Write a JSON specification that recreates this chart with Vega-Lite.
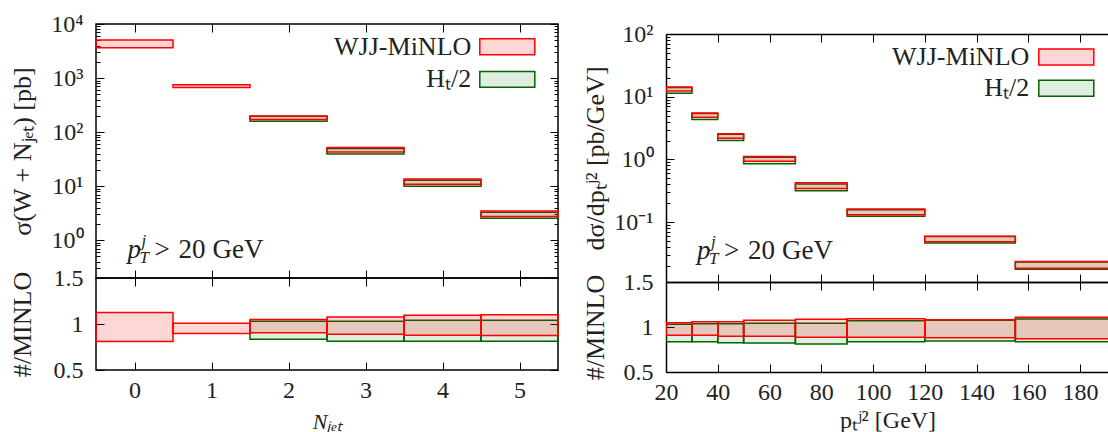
{
  "$schema": "https://vega.github.io/schema/vega-lite/v6.json",
  "padding": {"left": 8, "top": 11, "right": 0, "bottom": 0},
  "background": "white",
  "datasets": {
    "left": [
      {"x1": 1.5, "x2": 2.5, "series": "HT/2", "lo": 158.7, "hi": 195.9, "rlo": 0.835, "rhi": 1.031},
      {"x1": 2.5, "x2": 3.5, "series": "HT/2", "lo": 39.3, "hi": 49.8, "rlo": 0.813, "rhi": 1.031},
      {"x1": 3.5, "x2": 4.5, "series": "HT/2", "lo": 10.0, "hi": 12.8, "rlo": 0.813, "rhi": 1.042},
      {"x1": 4.5, "x2": 5.5, "series": "HT/2", "lo": 2.56, "hi": 3.28, "rlo": 0.813, "rhi": 1.042},
      {"x1": -0.5, "x2": 0.5, "series": "WJJ-MiNLO", "lo": 3640, "hi": 5060, "rlo": 0.809, "rhi": 1.125},
      {"x1": 0.5, "x2": 1.5, "series": "WJJ-MiNLO", "lo": 668, "hi": 752, "rlo": 0.896, "rhi": 1.009},
      {"x1": 1.5, "x2": 2.5, "series": "WJJ-MiNLO", "lo": 171.8, "hi": 199.3, "rlo": 0.904, "rhi": 1.049},
      {"x1": 2.5, "x2": 3.5, "series": "WJJ-MiNLO", "lo": 42.9, "hi": 51.9, "rlo": 0.889, "rhi": 1.075},
      {"x1": 3.5, "x2": 4.5, "series": "WJJ-MiNLO", "lo": 10.8, "hi": 13.5, "rlo": 0.878, "rhi": 1.096},
      {"x1": 4.5, "x2": 5.5, "series": "WJJ-MiNLO", "lo": 2.76, "hi": 3.47, "rlo": 0.875, "rhi": 1.1}
    ],
    "right": [
      {"x1": 20, "x2": 30, "series": "HT/2", "lo": 11.38, "hi": 14.01, "rlo": 0.837, "rhi": 1.03},
      {"x1": 30, "x2": 40, "series": "HT/2", "lo": 4.35, "hi": 5.39, "rlo": 0.837, "rhi": 1.037},
      {"x1": 40, "x2": 50, "series": "HT/2", "lo": 2.0, "hi": 2.51, "rlo": 0.826, "rhi": 1.037},
      {"x1": 50, "x2": 70, "series": "HT/2", "lo": 0.855, "hi": 1.083, "rlo": 0.822, "rhi": 1.041},
      {"x1": 70, "x2": 90, "series": "HT/2", "lo": 0.316, "hi": 0.406, "rlo": 0.811, "rhi": 1.041},
      {"x1": 90, "x2": 120, "series": "HT/2", "lo": 0.124, "hi": 0.158, "rlo": 0.837, "rhi": 1.07},
      {"x1": 120, "x2": 155, "series": "HT/2", "lo": 0.0464, "hi": 0.0591, "rlo": 0.844, "rhi": 1.074},
      {"x1": 155, "x2": 200, "series": "HT/2", "lo": 0.01774, "hi": 0.02309, "rlo": 0.837, "rhi": 1.089},
      {"x1": 20, "x2": 30, "series": "WJJ-MiNLO", "lo": 12.34, "hi": 14.25, "rlo": 0.907, "rhi": 1.048},
      {"x1": 30, "x2": 40, "series": "WJJ-MiNLO", "lo": 4.72, "hi": 5.51, "rlo": 0.907, "rhi": 1.059},
      {"x1": 40, "x2": 50, "series": "WJJ-MiNLO", "lo": 2.17, "hi": 2.56, "rlo": 0.896, "rhi": 1.059},
      {"x1": 50, "x2": 70, "series": "WJJ-MiNLO", "lo": 0.932, "hi": 1.117, "rlo": 0.896, "rhi": 1.074},
      {"x1": 70, "x2": 90, "series": "WJJ-MiNLO", "lo": 0.345, "hi": 0.423, "rlo": 0.885, "rhi": 1.085},
      {"x1": 90, "x2": 120, "series": "WJJ-MiNLO", "lo": 0.131, "hi": 0.162, "rlo": 0.885, "rhi": 1.093},
      {"x1": 120, "x2": 155, "series": "WJJ-MiNLO", "lo": 0.0485, "hi": 0.0595, "rlo": 0.881, "rhi": 1.081},
      {"x1": 155, "x2": 200, "series": "WJJ-MiNLO", "lo": 0.01844, "hi": 0.02347, "rlo": 0.87, "rhi": 1.107}
    ]
  },
  "hconcat": [
    {
      "vconcat": [
        {
          "width": 462,
          "height": 254,
          "layer": [
            {
              "data": {"name": "left"},
              "transform": [{"filter": "datum.series == 'HT/2'"}],
              "mark": {"type": "rect", "strokeWidth": 1.5},
              "encoding": {
                "x": {"field": "x1", "type": "quantitative", "scale": {"domain": [-0.5, 5.5], "nice": false, "zero": false}, "axis": {"orient": "top", "values": [0, 1, 2, 3, 4, 5], "labels": false, "tickSize": -8, "title": null}},
                "x2": {"field": "x2"},
                "y": {"field": "lo", "type": "quantitative", "scale": {"type": "log", "domain": [0.2, 10000], "nice": false}, "axis": {"orient": "right", "values": [1, 10, 100, 1000, 10000], "labels": false, "tickSize": -8, "title": null}},
                "y2": {"field": "hi"},
                "fill": {"field": "series", "type": "nominal", "scale": {"domain": ["WJJ-MiNLO", "HT/2"], "range": ["rgba(255,0,0,0.16)", "rgba(0,110,0,0.12)"]}, "legend": {"title": null, "orient": "none", "legendX": 396.8, "legendY": 8.3, "labelFontSize": 26, "labelAlign": "right", "labelOffset": -50.5, "rowPadding": 4.6, "symbolType": "M-2,-0.58H2V0.58H-2Z", "symbolSize": 756.25, "labelExpr": "datum.label == 'HT/2' ? 'Hₜ/2' : datum.label"}},
                "stroke": {"field": "series", "type": "nominal", "scale": {"domain": ["WJJ-MiNLO", "HT/2"], "range": ["#ff0000", "#006400"]}, "legend": {"title": null, "orient": "none", "legendX": 396.8, "legendY": 8.3, "labelFontSize": 26, "labelAlign": "right", "labelOffset": -50.5, "rowPadding": 4.6, "symbolType": "M-2,-0.58H2V0.58H-2Z", "symbolSize": 756.25, "labelExpr": "datum.label == 'HT/2' ? 'Hₜ/2' : datum.label"}},
                "strokeDash": {"field": "series", "type": "nominal", "scale": {"domain": ["WJJ-MiNLO", "HT/2"], "range": [[1, 0], [4, 3]]}, "legend": {"title": null, "orient": "none", "legendX": 396.8, "legendY": 8.3, "labelFontSize": 26, "labelAlign": "right", "labelOffset": -50.5, "rowPadding": 4.6, "symbolType": "M-2,-0.58H2V0.58H-2Z", "symbolSize": 756.25, "labelExpr": "datum.label == 'HT/2' ? 'Hₜ/2' : datum.label"}}
              }
            },
            {
              "data": {"name": "left"},
              "transform": [{"filter": "datum.series == 'WJJ-MiNLO'"}],
              "mark": {"type": "rect", "strokeWidth": 1.5},
              "encoding": {
                "x": {"field": "x1", "type": "quantitative", "axis": {"orient": "bottom", "values": [0, 1, 2, 3, 4, 5], "labels": false, "tickSize": -8, "title": null}},
                "x2": {"field": "x2"},
                "y": {"field": "lo", "type": "quantitative", "axis": {"orient": "left", "values": [1, 10, 100, 1000, 10000], "tickSize": -8, "labelPadding": 21, "minExtent": 50, "maxExtent": 50, "titlePadding": 11, "title": "σ(W + Nⱼₑₜ) [pb]", "labelExpr": "'10' + (datum.value > 9000 ? '⁴' : datum.value > 900 ? '³' : datum.value > 90 ? '²' : datum.value > 9 ? '¹' : datum.value > 0.9 ? '⁰' : '⁻¹')"}},
                "y2": {"field": "hi"},
                "fill": {"field": "series", "type": "nominal"},
                "stroke": {"field": "series", "type": "nominal"},
                "strokeDash": {"field": "series", "type": "nominal"}
              }
            },
            {
              "data": {"values": [{"t": "p"}]},
              "mark": {"type": "text", "align": "left", "baseline": "alphabetic", "fontSize": 27, "fontStyle": "italic", "color": "#222"},
              "encoding": {
                "x": {"datum": -0.09, "type": "quantitative", "axis": null},
                "y": {"datum": 0.47, "type": "quantitative", "axis": {"orient": "left", "values": [0.3, 0.4, 0.5, 0.6, 0.7, 0.8, 0.9, 2, 3, 4, 5, 6, 7, 8, 9, 20, 30, 40, 50, 60, 70, 80, 90, 200, 300, 400, 500, 600, 700, 800, 900, 2000, 3000, 4000, 5000, 6000, 7000, 8000, 9000], "labels": false, "tickSize": -4, "title": null}},
                "text": {"field": "t"}
              }
            },
            {
              "data": {"values": [{"t": "j"}]},
              "mark": {"type": "text", "align": "left", "baseline": "alphabetic", "fontSize": 17, "fontStyle": "italic", "color": "#222", "dx": 14, "dy": -12},
              "encoding": {
                "x": {"datum": -0.09, "type": "quantitative", "axis": null},
                "y": {"datum": 0.47, "type": "quantitative", "axis": {"orient": "right", "values": [0.3, 0.4, 0.5, 0.6, 0.7, 0.8, 0.9, 2, 3, 4, 5, 6, 7, 8, 9, 20, 30, 40, 50, 60, 70, 80, 90, 200, 300, 400, 500, 600, 700, 800, 900, 2000, 3000, 4000, 5000, 6000, 7000, 8000, 9000], "labels": false, "tickSize": -4, "title": null}},
                "text": {"field": "t"}
              }
            },
            {
              "data": {"values": [{"t": "T"}]},
              "mark": {"type": "text", "align": "left", "baseline": "alphabetic", "fontSize": 17, "fontStyle": "italic", "color": "#222", "dx": 12, "dy": 5},
              "encoding": {
                "x": {"datum": -0.09, "type": "quantitative", "axis": null},
                "y": {"datum": 0.47, "type": "quantitative", "axis": null},
                "text": {"field": "t"}
              }
            },
            {
              "data": {"values": [{"t": ">"}]},
              "mark": {"type": "text", "align": "left", "baseline": "alphabetic", "fontSize": 27, "color": "#222", "dx": 27},
              "encoding": {
                "x": {"datum": -0.09, "type": "quantitative", "axis": null},
                "y": {"datum": 0.47, "type": "quantitative", "axis": null},
                "text": {"field": "t"}
              }
            },
            {
              "data": {"values": [{"t": "20"}]},
              "mark": {"type": "text", "align": "left", "baseline": "alphabetic", "fontSize": 27, "color": "#222", "dx": 51},
              "encoding": {
                "x": {"datum": -0.09, "type": "quantitative", "axis": null},
                "y": {"datum": 0.47, "type": "quantitative", "axis": null},
                "text": {"field": "t"}
              }
            },
            {
              "data": {"values": [{"t": "GeV"}]},
              "mark": {"type": "text", "align": "left", "baseline": "alphabetic", "fontSize": 27, "color": "#222", "dx": 85},
              "encoding": {
                "x": {"datum": -0.09, "type": "quantitative", "axis": null},
                "y": {"datum": 0.47, "type": "quantitative", "axis": null},
                "text": {"field": "t"}
              }
            }
          ],
          "resolve": {"axis": {"x": "independent", "y": "independent"}}
        },
        {
          "width": 462,
          "height": 92,
          "layer": [
            {
              "data": {"name": "left"},
              "transform": [{"filter": "datum.series == 'HT/2'"}],
              "mark": {"type": "rect", "strokeWidth": 1.5},
              "encoding": {
                "x": {"field": "x1", "type": "quantitative", "scale": {"domain": [-0.5, 5.5], "nice": false, "zero": false}, "axis": {"orient": "top", "values": [0, 1, 2, 3, 4, 5], "labels": false, "tickSize": -8, "title": null}},
                "x2": {"field": "x2"},
                "y": {"field": "rlo", "type": "quantitative", "scale": {"domain": [0.5, 1.5], "nice": false, "zero": false}, "axis": {"orient": "right", "values": [0.5, 1, 1.5], "labels": false, "tickSize": -8, "title": null}},
                "y2": {"field": "rhi"},
                "fill": {"field": "series", "type": "nominal", "scale": {"domain": ["WJJ-MiNLO", "HT/2"], "range": ["rgba(255,0,0,0.16)", "rgba(0,110,0,0.12)"]}, "legend": null},
                "stroke": {"field": "series", "type": "nominal", "scale": {"domain": ["WJJ-MiNLO", "HT/2"], "range": ["#ff0000", "#006400"]}, "legend": null},
                "strokeDash": {"field": "series", "type": "nominal", "scale": {"domain": ["WJJ-MiNLO", "HT/2"], "range": [[1, 0], [4, 3]]}, "legend": null}
              }
            },
            {
              "data": {"name": "left"},
              "transform": [{"filter": "datum.series == 'WJJ-MiNLO'"}],
              "mark": {"type": "rect", "strokeWidth": 1.5},
              "encoding": {
                "x": {"field": "x1", "type": "quantitative", "axis": {"orient": "bottom", "values": [0, 1, 2, 3, 4, 5], "tickSize": -8, "labelPadding": 16.5, "format": "d", "title": "Nⱼₑₜ", "titleFontStyle": "italic", "titleFontSize": 22, "titlePadding": 8.5}},
                "x2": {"field": "x2"},
                "y": {"field": "rlo", "type": "quantitative", "axis": {"orient": "left", "values": [0.5, 1, 1.5], "tickSize": -8, "labelPadding": 21, "minExtent": 50, "maxExtent": 50, "titlePadding": 11, "format": "~g", "title": "#/MINLO"}},
                "y2": {"field": "rhi"},
                "fill": {"field": "series", "type": "nominal", "legend": null},
                "stroke": {"field": "series", "type": "nominal", "legend": null},
                "strokeDash": {"field": "series", "type": "nominal", "legend": null}
              }
            }
          ],
          "resolve": {"axis": {"x": "independent", "y": "independent"}}
        }
      ],
      "spacing": 0,
      "bounds": "flush",
      "resolve": {"scale": {"fill": "independent", "stroke": "independent", "strokeDash": "independent"}, "legend": {"fill": "independent", "stroke": "independent", "strokeDash": "independent"}}
    },
    {
      "vconcat": [
        {
          "width": 443,
          "height": 9.4,
          "view": {"stroke": null},
          "data": {"values": []},
          "mark": "rect",
          "encoding": {}
        },
        {
          "width": 443,
          "height": 248,
          "view": {"stroke": null},
          "layer": [
            {
              "data": {"name": "right"},
              "transform": [{"filter": "datum.series == 'HT/2'"}],
              "mark": {"type": "rect", "strokeWidth": 1.5, "clip": true},
              "encoding": {
                "x": {"field": "x1", "type": "quantitative", "scale": {"domain": [20, 191.2], "nice": false, "zero": false}, "axis": {"orient": "top", "values": [40, 60, 80, 100, 120, 140, 160, 180], "labels": false, "tickSize": -8, "title": null, "domain": true}},
                "x2": {"field": "x2"},
                "y": {"field": "lo", "type": "quantitative", "scale": {"type": "log", "domain": [0.0111, 100], "nice": false}, "axis": {"orient": "left", "values": [0.02, 0.03, 0.04, 0.05, 0.06, 0.07, 0.08, 0.09, 0.2, 0.3, 0.4, 0.5, 0.6, 0.7, 0.8, 0.9, 2, 3, 4, 5, 6, 7, 8, 9, 20, 30, 40, 50, 60, 70, 80, 90], "labels": false, "tickSize": -4, "title": null}},
                "y2": {"field": "hi"},
                "fill": {"field": "series", "type": "nominal", "scale": {"domain": ["WJJ-MiNLO", "HT/2"], "range": ["rgba(255,0,0,0.16)", "rgba(0,110,0,0.12)"]}, "legend": {"title": null, "orient": "none", "legendX": 385.8, "legendY": 8.4, "labelFontSize": 26, "labelAlign": "right", "labelOffset": -51.5, "rowPadding": 3.4, "symbolType": "M-2,-0.58H2V0.58H-2Z", "symbolSize": 756.25, "labelExpr": "datum.label == 'HT/2' ? 'Hₜ/2' : datum.label"}},
                "stroke": {"field": "series", "type": "nominal", "scale": {"domain": ["WJJ-MiNLO", "HT/2"], "range": ["#ff0000", "#006400"]}, "legend": {"title": null, "orient": "none", "legendX": 385.8, "legendY": 8.4, "labelFontSize": 26, "labelAlign": "right", "labelOffset": -51.5, "rowPadding": 3.4, "symbolType": "M-2,-0.58H2V0.58H-2Z", "symbolSize": 756.25, "labelExpr": "datum.label == 'HT/2' ? 'Hₜ/2' : datum.label"}},
                "strokeDash": {"field": "series", "type": "nominal", "scale": {"domain": ["WJJ-MiNLO", "HT/2"], "range": [[1, 0], [4, 3]]}, "legend": {"title": null, "orient": "none", "legendX": 385.8, "legendY": 8.4, "labelFontSize": 26, "labelAlign": "right", "labelOffset": -51.5, "rowPadding": 3.4, "symbolType": "M-2,-0.58H2V0.58H-2Z", "symbolSize": 756.25, "labelExpr": "datum.label == 'HT/2' ? 'Hₜ/2' : datum.label"}}
              }
            },
            {
              "data": {"name": "right"},
              "transform": [{"filter": "datum.series == 'WJJ-MiNLO'"}],
              "mark": {"type": "rect", "strokeWidth": 1.5, "clip": true},
              "encoding": {
                "x": {"field": "x1", "type": "quantitative", "axis": {"orient": "bottom", "values": [40, 60, 80, 100, 120, 140, 160, 180], "labels": false, "tickSize": -8, "title": null, "domain": true}},
                "x2": {"field": "x2"},
                "y": {"field": "lo", "type": "quantitative", "axis": {"orient": "left", "values": [0.1, 1, 10, 100], "tickSize": -8, "labelPadding": 21, "minExtent": 50, "maxExtent": 50, "titlePadding": 8, "domain": true, "title": "dσ/dpₜʲ² [pb/GeV]", "labelExpr": "'10' + (datum.value > 90 ? '²' : datum.value > 9 ? '¹' : datum.value > 0.9 ? '⁰' : '⁻¹')"}},
                "y2": {"field": "hi"},
                "fill": {"field": "series", "type": "nominal"},
                "stroke": {"field": "series", "type": "nominal"},
                "strokeDash": {"field": "series", "type": "nominal"}
              }
            },
            {
              "data": {"values": [{"t": "p"}]},
              "mark": {"type": "text", "align": "left", "baseline": "alphabetic", "fontSize": 27, "fontStyle": "italic", "color": "#222"},
              "encoding": {
                "x": {"datum": 32, "type": "quantitative", "axis": null},
                "y": {"datum": 0.0255, "type": "quantitative", "axis": null},
                "text": {"field": "t"}
              }
            },
            {
              "data": {"values": [{"t": "j"}]},
              "mark": {"type": "text", "align": "left", "baseline": "alphabetic", "fontSize": 17, "fontStyle": "italic", "color": "#222", "dx": 14, "dy": -12},
              "encoding": {
                "x": {"datum": 32, "type": "quantitative", "axis": null},
                "y": {"datum": 0.0255, "type": "quantitative", "axis": null},
                "text": {"field": "t"}
              }
            },
            {
              "data": {"values": [{"t": "T"}]},
              "mark": {"type": "text", "align": "left", "baseline": "alphabetic", "fontSize": 17, "fontStyle": "italic", "color": "#222", "dx": 12, "dy": 5},
              "encoding": {
                "x": {"datum": 32, "type": "quantitative", "axis": null},
                "y": {"datum": 0.0255, "type": "quantitative", "axis": null},
                "text": {"field": "t"}
              }
            },
            {
              "data": {"values": [{"t": ">"}]},
              "mark": {"type": "text", "align": "left", "baseline": "alphabetic", "fontSize": 27, "color": "#222", "dx": 27},
              "encoding": {
                "x": {"datum": 32, "type": "quantitative", "axis": null},
                "y": {"datum": 0.0255, "type": "quantitative", "axis": null},
                "text": {"field": "t"}
              }
            },
            {
              "data": {"values": [{"t": "20"}]},
              "mark": {"type": "text", "align": "left", "baseline": "alphabetic", "fontSize": 27, "color": "#222", "dx": 51},
              "encoding": {
                "x": {"datum": 32, "type": "quantitative", "axis": null},
                "y": {"datum": 0.0255, "type": "quantitative", "axis": null},
                "text": {"field": "t"}
              }
            },
            {
              "data": {"values": [{"t": "GeV"}]},
              "mark": {"type": "text", "align": "left", "baseline": "alphabetic", "fontSize": 27, "color": "#222", "dx": 85},
              "encoding": {
                "x": {"datum": 32, "type": "quantitative", "axis": null},
                "y": {"datum": 0.0255, "type": "quantitative", "axis": null},
                "text": {"field": "t"}
              }
            }
          ],
          "resolve": {"axis": {"x": "independent", "y": "independent"}}
        },
        {
          "width": 443,
          "height": 90,
          "view": {"stroke": null},
          "layer": [
            {
              "data": {"name": "right"},
              "transform": [{"filter": "datum.series == 'HT/2'"}],
              "mark": {"type": "rect", "strokeWidth": 1.5, "clip": true},
              "encoding": {
                "x": {"field": "x1", "type": "quantitative", "scale": {"domain": [20, 191.2], "nice": false, "zero": false}, "axis": {"orient": "top", "values": [40, 60, 80, 100, 120, 140, 160, 180], "labels": false, "tickSize": -8, "title": null, "domain": true}},
                "x2": {"field": "x2"},
                "y": {"field": "rlo", "type": "quantitative", "scale": {"domain": [0.5, 1.5], "nice": false, "zero": false}, "axis": null},
                "y2": {"field": "rhi"},
                "fill": {"field": "series", "type": "nominal", "scale": {"domain": ["WJJ-MiNLO", "HT/2"], "range": ["rgba(255,0,0,0.16)", "rgba(0,110,0,0.12)"]}, "legend": null},
                "stroke": {"field": "series", "type": "nominal", "scale": {"domain": ["WJJ-MiNLO", "HT/2"], "range": ["#ff0000", "#006400"]}, "legend": null},
                "strokeDash": {"field": "series", "type": "nominal", "scale": {"domain": ["WJJ-MiNLO", "HT/2"], "range": [[1, 0], [4, 3]]}, "legend": null}
              }
            },
            {
              "data": {"name": "right"},
              "transform": [{"filter": "datum.series == 'WJJ-MiNLO'"}],
              "mark": {"type": "rect", "strokeWidth": 1.5, "clip": true},
              "encoding": {
                "x": {"field": "x1", "type": "quantitative", "axis": {"orient": "bottom", "values": [20, 40, 60, 80, 100, 120, 140, 160, 180], "tickSize": -8, "labelPadding": 16.5, "format": "d", "domain": true, "title": "pₜʲ² [GeV]", "titleFontSize": 24, "titlePadding": 3.5}},
                "x2": {"field": "x2"},
                "y": {"field": "rlo", "type": "quantitative", "axis": {"orient": "left", "values": [0.5, 1, 1.5], "tickSize": -8, "labelPadding": 21, "minExtent": 50, "maxExtent": 50, "titlePadding": 8, "domain": true, "format": "~g", "title": "#/MINLO"}},
                "y2": {"field": "rhi"},
                "fill": {"field": "series", "type": "nominal", "legend": null},
                "stroke": {"field": "series", "type": "nominal", "legend": null},
                "strokeDash": {"field": "series", "type": "nominal", "legend": null}
              }
            }
          ],
          "resolve": {"axis": {"x": "independent", "y": "independent"}}
        }
      ],
      "spacing": 0,
      "bounds": "flush",
      "resolve": {"scale": {"fill": "independent", "stroke": "independent", "strokeDash": "independent"}, "legend": {"fill": "independent", "stroke": "independent", "strokeDash": "independent"}}
    }
  ],
  "spacing": 22,
  "resolve": {"scale": {"fill": "independent", "stroke": "independent", "strokeDash": "independent"}, "legend": {"fill": "independent", "stroke": "independent", "strokeDash": "independent"}},
  "config": {
    "font": "Liberation Serif",
    "view": {"stroke": "black", "strokeWidth": 1.5},
    "axis": {"domain": false, "domainColor": "black", "domainWidth": 1.5, "grid": false, "tickColor": "black", "tickWidth": 1, "labelFont": "Liberation Serif", "labelFontSize": 24, "labelColor": "#222", "labelFlush": false, "labelOverlap": false, "titleFont": "Liberation Serif", "titleFontSize": 26, "titleFontWeight": "normal", "titleColor": "#222"},
    "legend": {"symbolStrokeWidth": 1.5, "labelFont": "Liberation Serif", "labelColor": "#222", "padding": 0},
    "title": {"font": "Liberation Serif"}
  }
}
